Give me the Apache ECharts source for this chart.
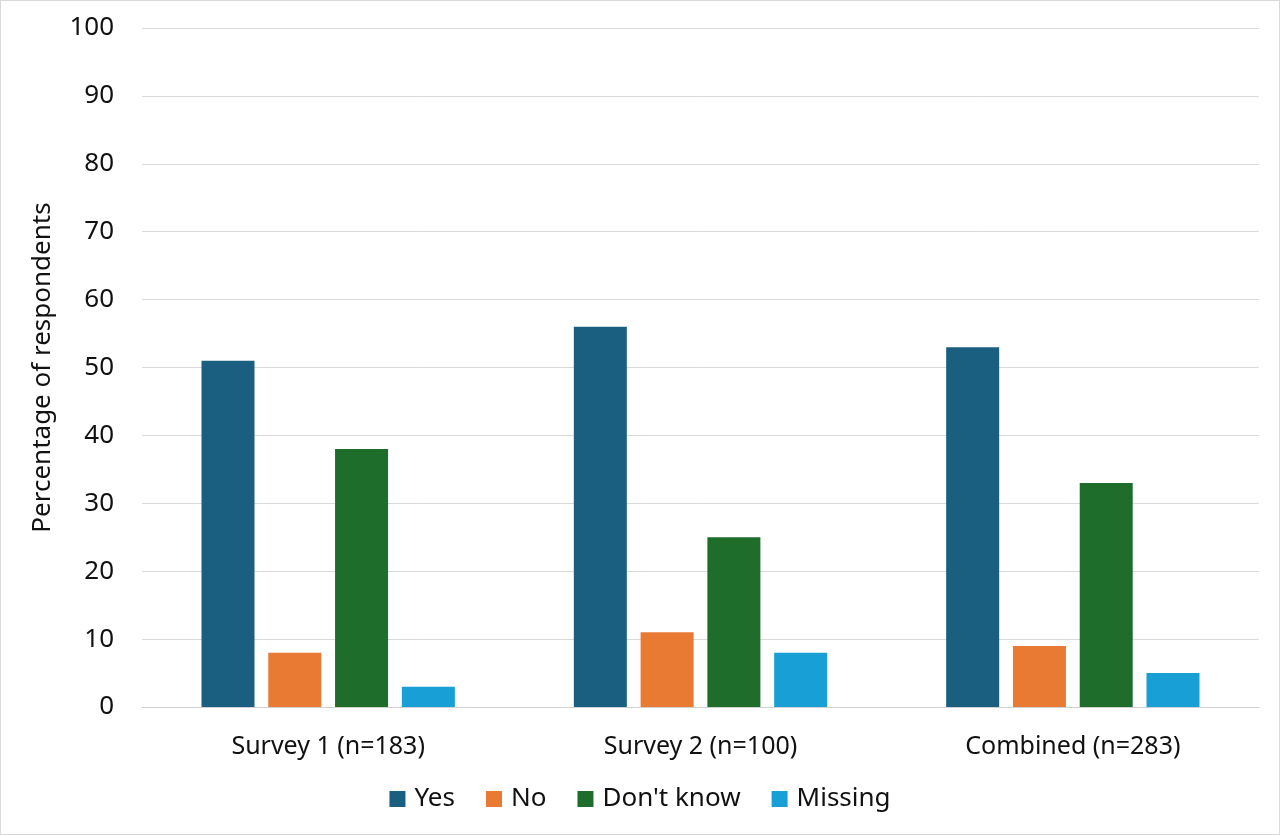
<!DOCTYPE html>
<html>
<head>
<meta charset="utf-8">
<script src="https://cdn.jsdelivr.net/npm/echarts@6/dist/echarts.min.js"></script>
<style>
  html,body{margin:0;padding:0;background:#fff;}
  #main{width:1278px;height:833px;border:1px solid #d9d9d9;}
</style>
</head>
<body>
<div id="main"></div>
<script>
var categories=['Survey 1 (n=183)','Survey 2 (n=100)','Combined (n=283)'];
var yesData=[51,56,53];
var noData=[8,11,9];
var dontKnowData=[38,25,33];
var missingData=[3,8,5];
var seriesNames=['Yes','No',"Don't know",'Missing'];
var colors=['#1a5f80','#e97a34','#1e6d2b','#18a0d6'];

var chart=echarts.init(document.getElementById('main'));
var font='"Noto Sans", sans-serif';

function bar(name,data){
  return {
    name:name,
    type:'bar',
    barWidth:53,
    barGap:'26%',
    data:data
  };
}

var option={
  color:colors,
  textStyle:{fontFamily:font},
  legend:{
    data:seriesNames,
    bottom:17,
    left:'center',
    itemWidth:16,
    itemHeight:16,
    itemGap:31,
    icon:'rect',
    textStyle:{fontSize:26,color:'#111',fontFamily:font,padding:[0,0,0,4]}
  },
  grid:{
    left:141,
    right:20,
    top:27,
    bottom:127
  },
  xAxis:{
    type:'category',
    data:categories,
    axisTick:{show:false},
    axisLine:{lineStyle:{color:'#d0d0d0'}},
    axisLabel:{fontSize:25,color:'#111',margin:27,fontFamily:font}
  },
  yAxis:{
    type:'value',
    min:0,
    max:100,
    interval:10,
    name:'Percentage of respondents',
    nameLocation:'middle',
    nameGap:86,
    nameTextStyle:{fontSize:26,color:'#111',fontFamily:font},
    axisLine:{show:false},
    axisTick:{show:false},
    axisLabel:{fontSize:26,color:'#111',margin:28,fontFamily:font},
    splitLine:{lineStyle:{color:'#d9d9d9',type:'solid'}}
  },
  series:[
    bar(seriesNames[0],yesData),
    bar(seriesNames[1],noData),
    bar(seriesNames[2],dontKnowData),
    bar(seriesNames[3],missingData)
  ]
};

chart.setOption(option);
</script>
</body>
</html>
